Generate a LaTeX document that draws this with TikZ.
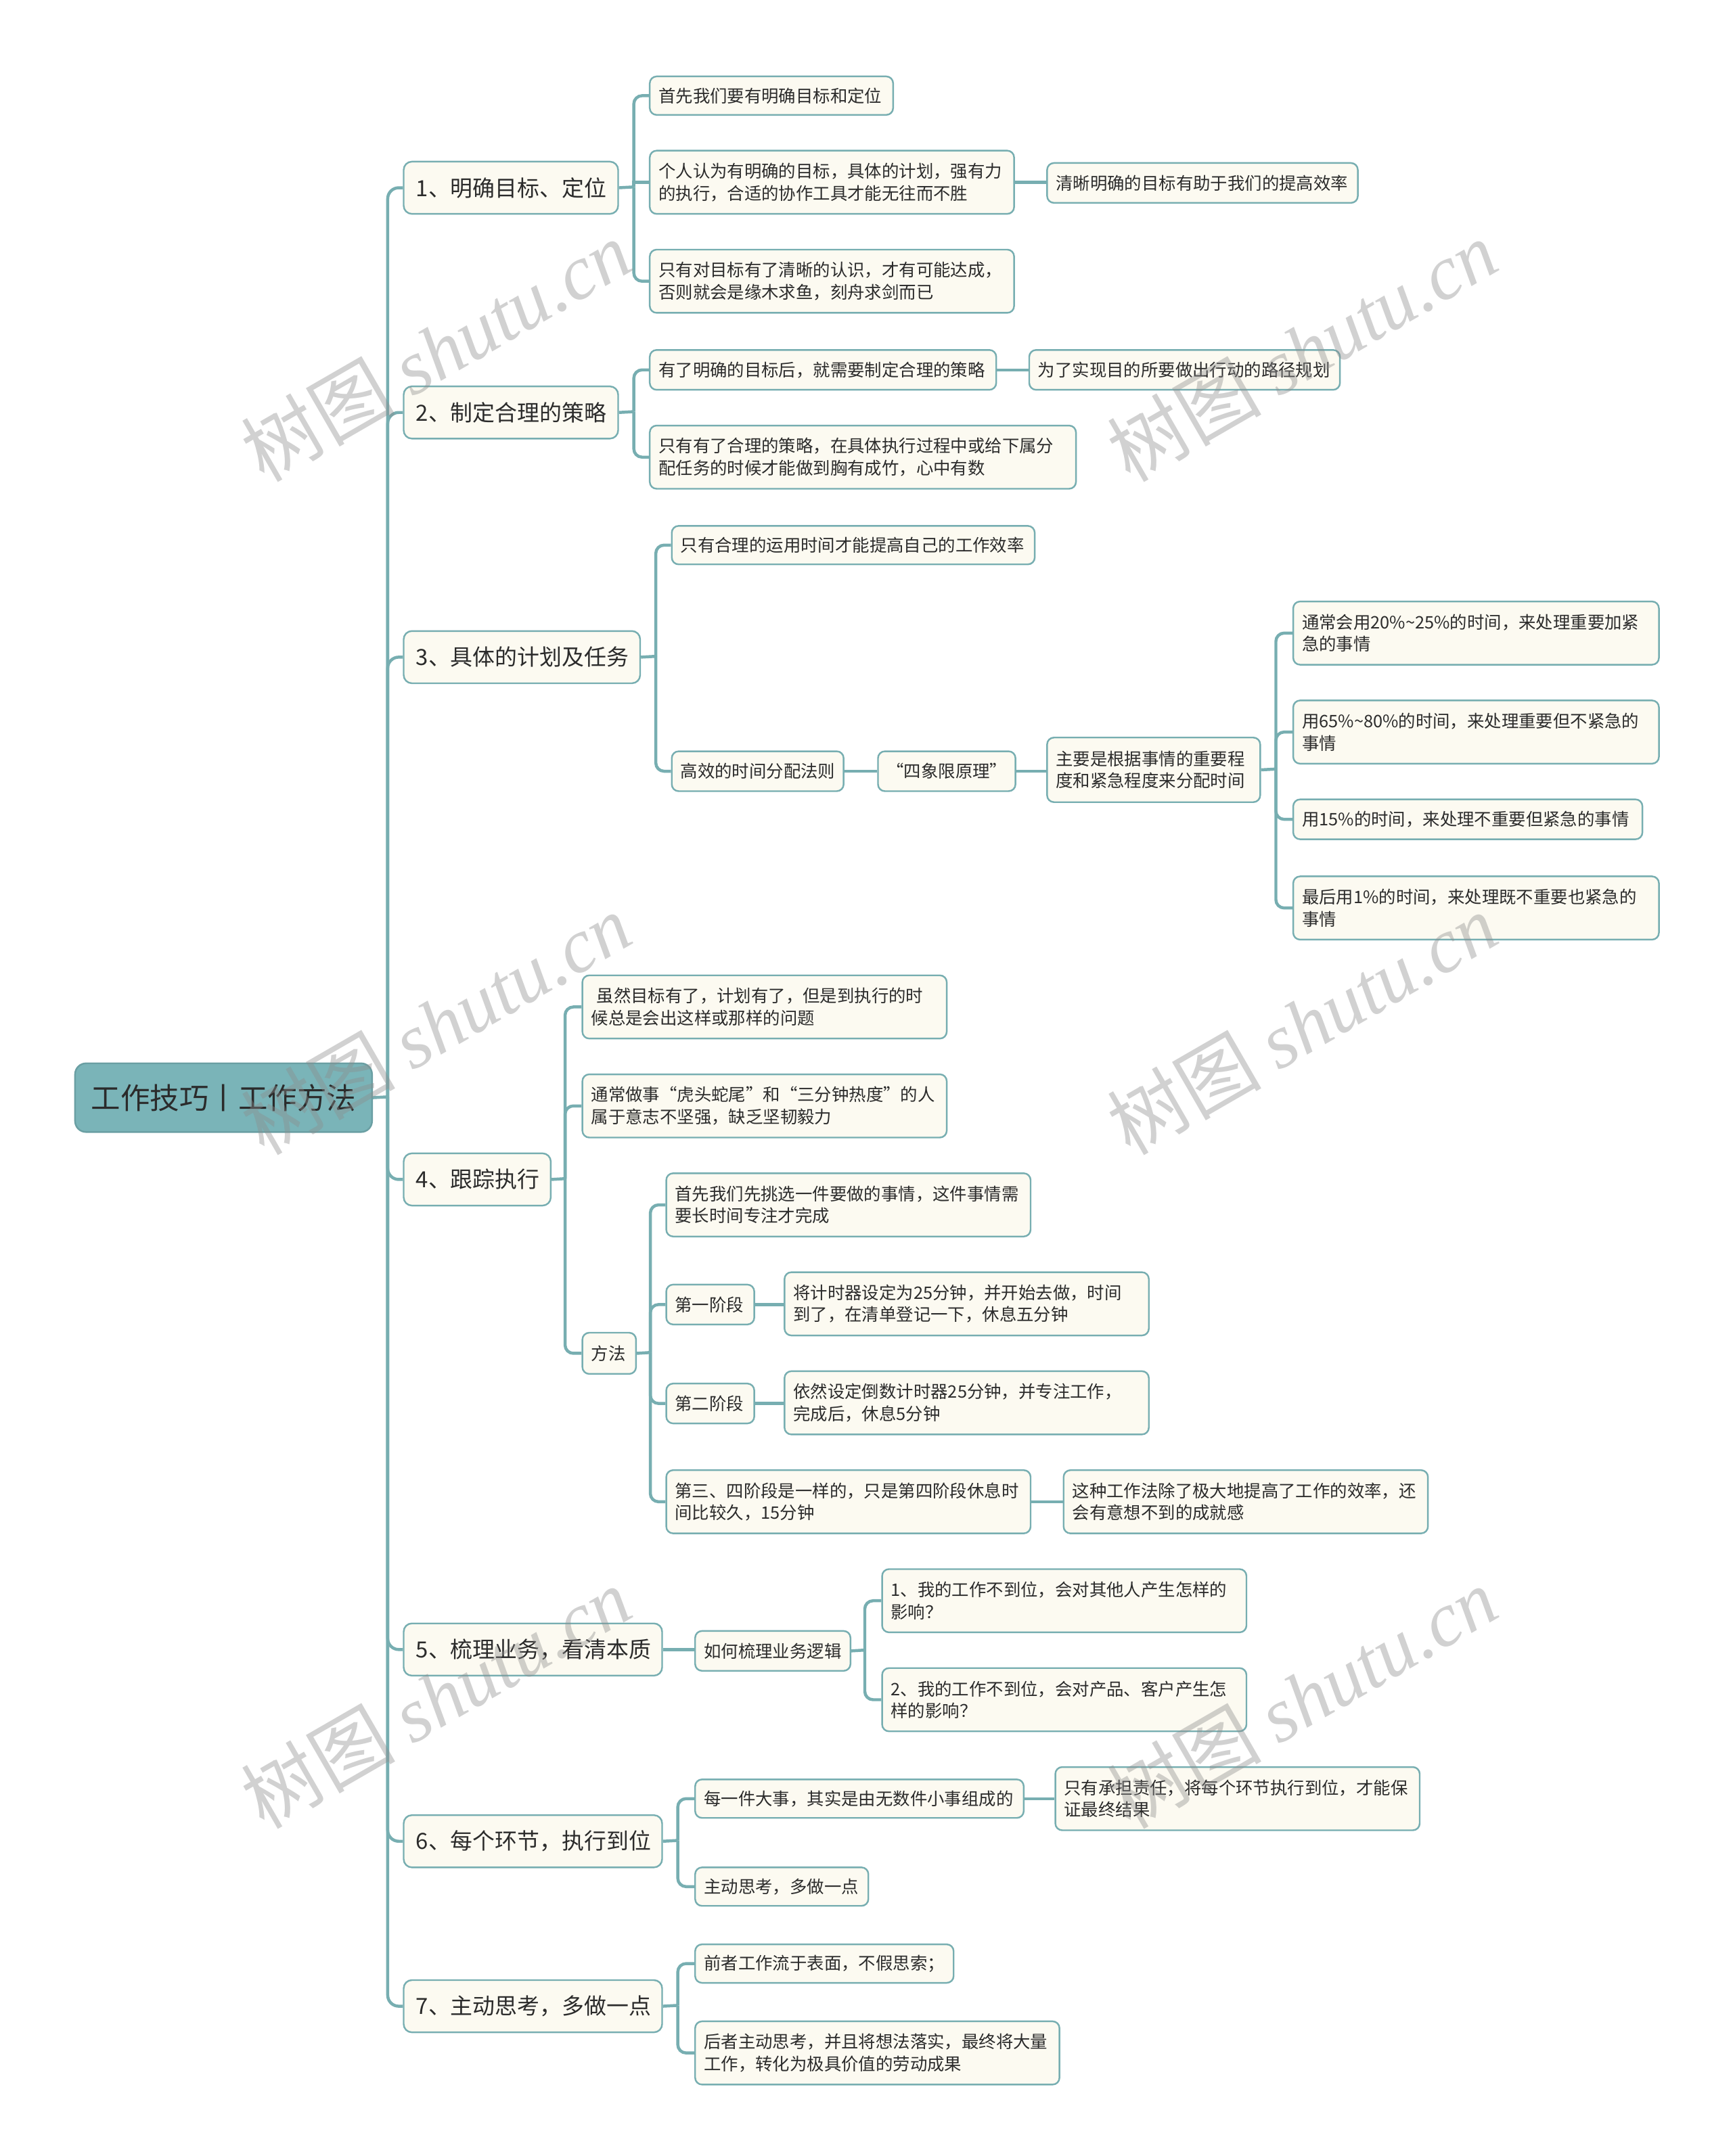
\documentclass[tikz,border=0pt]{standalone}
\usepackage{fontspec}
\setmainfont{Noto Sans CJK SC}
\newfontfamily\wmlatin{Liberation Serif}
\usetikzlibrary{backgrounds}
\definecolor{lineC}{HTML}{77AEB1}
\definecolor{nodeC}{HTML}{FCFAF1}
\definecolor{rootC}{HTML}{7AB4B8}
\definecolor{rootB}{HTML}{6A9FA3}
\definecolor{txtC}{HTML}{2B2B2B}
\definecolor{wmC}{HTML}{8C8C8C}
\tikzset{
  box/.style={draw=lineC, fill=nodeC, rounded corners=2.5pt, line width=0.6pt,
    inner xsep=3.2pt, inner ysep=1pt, align=left, text=txtC,
    font=\fontsize{6.25}{8}\selectfont},
  lbox/.style={box, inner xsep=4.5pt, rounded corners=3pt,
    font=\fontsize{8.1}{10}\selectfont},
  rootbox/.style={draw=rootB, fill=rootC, rounded corners=4pt, line width=0.6pt,
    inner sep=0pt, text=txtC, font=\fontsize{10.7}{13}\selectfont},
  conn/.style={draw=lineC, line width=1.1pt, rounded corners=3pt},
  sharpconn/.style={draw=lineC, line width=1.1pt},
  wm/.style={text=wmC, text opacity=0.4, font=\fontsize{28}{32}\selectfont, inner sep=0pt}
}
\newcommand\bx[7][]{\pgfmathsetmacro\tw{#5*0.5-6.4}\node[box,anchor=north west,text width=\tw pt,minimum height=#6*0.5pt,#1] (#2) at (#3,#4) {#7};}
\newcommand\lb[6]{\pgfmathsetmacro\tw{#4*0.5-9}\node[lbox,anchor=north west,text width=\tw pt,minimum height=#5*0.5pt] (#1) at (#2,#3) {#6};}
\newcommand\tl{{\char"007E}}
\begin{document}
\begin{tikzpicture}[x=0.5pt,y=-0.5pt]
\useasboundingbox (0,0) rectangle (1260,1568.6);
% root
\node[rootbox, anchor=north west, minimum width=108pt, minimum height=25pt] (root) at (54,773) {工作技巧丨工作方法};
% level 1
\lb{n1}{293}{117}{156}{38}{1、明确目标、定位}
\lb{n2}{293}{280.5}{156}{38}{2、制定合理的策略}
\lb{n3}{293}{458.5}{172}{38}{3、具体的计划及任务}
\lb{n4}{293}{838.5}{107}{38}{4、跟踪执行}
\lb{n5}{293}{1180.5}{188}{38}{5、梳理业务，看清本质}
\lb{n6}{293}{1320}{188}{38}{6、每个环节，执行到位}
\lb{n7}{293}{1440}{188}{38}{7、主动思考，多做一点}
% branch 1
\bx{a1}{472}{55}{177}{28}{首先我们要有明确目标和定位}
\bx{b1}{472}{109}{265}{46}{个人认为有明确的目标，具体的计划，强有力\\的执行，合适的协作工具才能无往而不胜}
\bx{b1x}{761}{118}{226}{29}{清晰明确的目标有助于我们的提高效率}
\bx{c1}{472}{181}{265}{46}{只有对目标有了清晰的认识，才有可能达成，\\否则就会是缘木求鱼，刻舟求剑而已}
% branch 2
\bx{a2}{472}{254}{252}{29}{有了明确的目标后，就需要制定合理的策略}
\bx{a2x}{748}{254}{226}{29}{为了实现目的所要做出行动的路径规划}
\bx{b2}{472}{309}{310}{46}{只有有了合理的策略，在具体执行过程中或给下属分\\配任务的时候才能做到胸有成竹，心中有数}
% branch 3
\bx{a3}{488}{382}{264}{28}{只有合理的运用时间才能提高自己的工作效率}
\bx{b3}{488}{546}{125}{29}{高效的时间分配法则}
\bx[align=center]{b3a}{638}{546}{100}{29}{“四象限原理”}
\bx{b3b}{761}{536}{155}{47}{主要是根据事情的重要程\\度和紧急程度来分配时间}
\bx{q1}{940}{437}{266}{46}{通常会用20\%\tl25\%的时间，来处理重要加紧\\急的事情}
\bx{q2}{940}{509}{266}{46}{用65\%\tl80\%的时间，来处理重要但不紧急的\\事情}
\bx{q3}{940}{581}{254}{29}{用15\%的时间，来处理不重要但紧急的事情}
\bx{q4}{940}{637}{266}{46}{最后用1\%的时间，来处理既不重要也紧急的\\事情}
% branch 4
\bx{a4}{423}{709}{265}{46}{\hspace{2pt}虽然目标有了，计划有了，但是到执行的时\\候总是会出这样或那样的问题}
\bx{b4}{423}{781}{265}{46}{通常做事“虎头蛇尾”和“三分钟热度”的人\\属于意志不坚强，缺乏坚韧毅力}
\bx{c4}{423}{969}{39}{30}{方法}
\bx{d1}{484}{853}{265}{46}{首先我们先挑选一件要做的事情，这件事情需\\要长时间专注才完成}
\bx{d2}{484}{934}{64}{29}{第一阶段}
\bx{d2a}{570}{925}{265}{46}{将计时器设定为25分钟，并开始去做，时间\\到了，在清单登记一下，休息五分钟}
\bx{d3}{484}{1006}{64}{29}{第二阶段}
\bx{d3a}{570}{997}{265}{46}{依然设定倒数计时器25分钟，并专注工作，\\完成后，休息5分钟}
\bx{d4}{484}{1069}{265}{46}{第三、四阶段是一样的，只是第四阶段休息时\\间比较久，15分钟}
\bx{d4a}{773}{1069}{265}{46}{这种工作法除了极大地提高了工作的效率，还\\会有意想不到的成就感}
% branch 5
\bx{a5}{505}{1186}{113}{29}{如何梳理业务逻辑}
\bx{a5a}{641}{1141}{265}{46}{1、我的工作不到位，会对其他人产生怎样的\\影响？}
\bx{a5b}{641}{1213}{265}{46}{2、我的工作不到位，会对产品、客户产生怎\\样的影响？}
% branch 6
\bx{a6}{505}{1294}{239}{28}{每一件大事，其实是由无数件小事组成的}
\bx{a6a}{767}{1285}{265}{46}{只有承担责任，将每个环节执行到位，才能保\\证最终结果}
\bx{b6}{505}{1358}{126}{28}{主动思考，多做一点}
% branch 7
\bx{a7}{505}{1414}{188}{28}{前者工作流于表面，不假思索；}
\bx{b7}{505}{1470}{265}{46}{后者主动思考，并且将想法落实，最终将大量\\工作，转化为极具价值的劳动成果}
% junctions
\coordinate (tj) at (282,798);
\coordinate (j1) at (461,136);
\coordinate (j2) at (461,299.5);
\coordinate (j3) at (477,477.5);
\coordinate (jq) at (928,559.5);
\coordinate (j4) at (411,857.5);
\coordinate (jm) at (473,984);
\coordinate (j5) at (629,1200.5);
\coordinate (j6) at (493,1339);
\coordinate (j7) at (493,1459);
\begin{scope}[on background layer]
\fill[white] (0,0) rectangle (1260,1568.6);
\draw[conn] (root.east) -- (tj);
\foreach \n in {n1,n2,n3,n4,n5,n6,n7}{\draw[conn,rounded corners=4pt] (tj) |- (\n.west);}
% 1
\draw[conn] (n1.east) -- (j1);
\draw[conn] (j1) |- (a1.west);
\draw[sharpconn] (j1) |- (b1.west);
\draw[conn] (j1) |- (c1.west);
\draw[conn] (b1.east) -- (b1.east -| b1x.west);
% 2
\draw[conn] (n2.east) -- (j2);
\draw[conn] (j2) |- (a2.west);
\draw[conn] (j2) |- (b2.west);
\draw[conn] (a2.east) -- (a2.east -| a2x.west);
% 3
\draw[conn] (n3.east) -- (j3);
\draw[conn] (j3) |- (a3.west);
\draw[conn] (j3) |- (b3.west);
\draw[conn] (b3.east) -- (b3.east -| b3a.west);
\draw[conn] (b3a.east) -- (b3a.east -| b3b.west);
\draw[conn] (b3b.east) -- (jq);
\foreach \q in {q1,q2,q3,q4}{\draw[conn] (jq) |- (\q.west);}
% 4
\draw[conn] (n4.east) -- (j4);
\foreach \q in {a4,b4,c4}{\draw[conn] (j4) |- (\q.west);}
\draw[conn] (c4.east) -- (jm);
\foreach \q in {d1,d2,d3,d4}{\draw[conn] (jm) |- (\q.west);}
\draw[conn] (d2.east) -- (d2.east -| d2a.west);
\draw[conn] (d3.east) -- (d3.east -| d3a.west);
\draw[conn] (d4.east) -- (d4.east -| d4a.west);
% 5
\draw[conn] (n5.east) -- (n5.east -| a5.west);
\draw[conn] (a5.east) -- (j5);
\draw[conn] (j5) |- (a5a.west);
\draw[conn] (j5) |- (a5b.west);
% 6
\draw[conn] (n6.east) -- (j6);
\draw[conn] (j6) |- (a6.west);
\draw[conn] (j6) |- (b6.west);
\draw[conn] (a6.east) -- (a6.east -| a6a.west);
% 7
\draw[conn] (n7.east) -- (j7);
\draw[conn] (j7) |- (a7.west);
\draw[conn] (j7) |- (b7.west);
\end{scope}
% watermarks
\foreach \wx/\wy [count=\i] in {317/255,947/255,317/745,947/745,317/1235,947/1235}{
  \node[wm, rotate=30] (wm\i) at (\wx,\wy) {树图 {\wmlatin\itshape shutu.cn}};
}
\end{tikzpicture}
\end{document}
